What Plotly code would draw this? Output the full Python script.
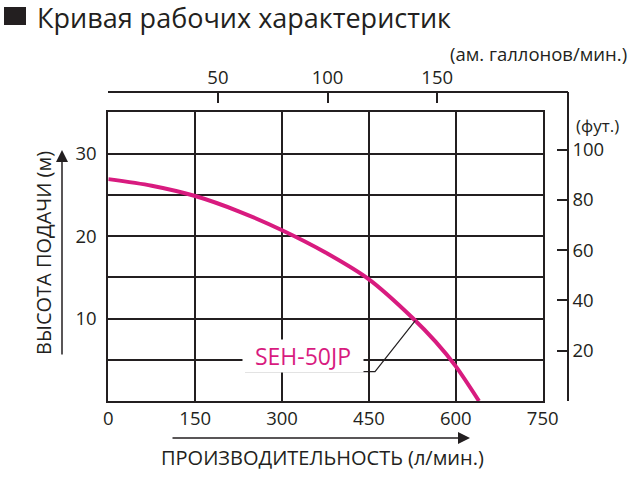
import numpy as np
import plotly.graph_objects as go

# ---- data ----
flow_lpm = [0, 75, 150, 225, 300, 375, 450, 525, 565, 600, 640]
head_m = [26.9, 26.1, 24.85, 23.0, 20.7, 18.0, 14.75, 10.1, 7.2, 4.2, 0.0]
x_ticks = [0, 150, 300, 450, 600, 750]
y_grid = [0, 5, 10, 15, 20, 25, 30, 35]
y_labels = ["", "", "10", "", "20", "", "30", ""]
gal_ticks = [50, 100, 150]
ft_ticks = [20, 40, 60, 80, 100]
series_name = "SEH-50JP"
LEADER_Q = 530
L_PER_GAL = 3.78541
M_TO_FT = 3.28084

W, H = 640, 479
INK = "#231f20"
MAG = "#d81b7f"
FONT = "Open Sans"

def fx(px):
    return px / W

def fy(py):
    return 1 - py / H

# plot area in pixels
PL, PR, PT, PB = 108.3, 542.7, 112.3, 401.0
AX_TOP, AX_RIGHT = 92.0, 568.0
x_max, y_max = 750, 35
px_per_l = (PR - PL) / x_max
px_per_m = (PB - PT) / y_max
gal_max = (AX_RIGHT - PL) / px_per_l / L_PER_GAL
ft_max = (PB - AX_TOP) / px_per_m * M_TO_FT

fig = go.Figure()
fig.add_trace(go.Scatter(x=flow_lpm, y=head_m, mode="lines", name=series_name,
                         line=dict(color=MAG, width=4, shape="spline", smoothing=0.8),
                         showlegend=False, hoverinfo="skip"))
fig.add_trace(go.Scatter(x=[], y=[], xaxis="x2", yaxis="y2", showlegend=False))

axis_font = dict(family=FONT, size=18.5, color=INK)
title_font = dict(family=FONT, size=20, color=INK)
fig.update_layout(
    width=W, height=H,
    margin=dict(l=0, r=0, t=0, b=0),
    paper_bgcolor="white", plot_bgcolor="rgba(0,0,0,0)",
    showlegend=False,
    xaxis=dict(domain=[fx(PL), fx(PR)], range=[0, x_max], tickvals=x_ticks,
               showgrid=True, gridcolor=INK, gridwidth=2, zeroline=False,
               showline=True, linecolor=INK, linewidth=2, mirror=True,
               ticks="", tickfont=axis_font, automargin=False, fixedrange=True,
               ticklabelstandoff=0),
    yaxis=dict(domain=[fy(PB), fy(PT)], range=[0, y_max], tickvals=y_grid, ticktext=y_labels,
               showgrid=True, gridcolor=INK, gridwidth=2, zeroline=False,
               showline=True, linecolor=INK, linewidth=2, mirror=True,
               ticks="", tickfont=axis_font, automargin=False, fixedrange=True,
               ticklabelstandoff=6),
    xaxis2=dict(domain=[fx(PL), fx(AX_RIGHT)], range=[0, gal_max], anchor="free",
                position=fy(AX_TOP), side="top", tickvals=gal_ticks,
                showgrid=False, zeroline=False, showline=True, linecolor=INK, linewidth=1.5,
                ticks="inside", ticklen=10, tickwidth=1.5, tickcolor=INK,
                tickfont=axis_font, automargin=False, fixedrange=True),
    yaxis2=dict(domain=[fy(PB), fy(AX_TOP)], range=[0, ft_max], anchor="free",
                position=fx(AX_RIGHT), side="right", tickvals=ft_ticks,
                showgrid=False, zeroline=False, showline=True, linecolor=INK, linewidth=1.5,
                ticks="inside", ticklen=10, tickwidth=1.5, tickcolor=INK,
                tickfont=axis_font, automargin=False, fixedrange=True),
)

ann = []
# title
ann.append(dict(x=fx(35), y=fy(17), xref="paper", yref="paper", text="Кривая рабочих характеристик",
                showarrow=False, xanchor="left", yanchor="middle",
                font=dict(family=FONT, size=27, color=INK)))
# unit labels
ann.append(dict(x=fx(629), y=fy(53), xref="paper", yref="paper", text="(ам. галлонов/мин.)",
                showarrow=False, xanchor="right", yanchor="middle", font=axis_font))
ann.append(dict(x=fx(574), y=fy(125), xref="paper", yref="paper", text="(фут.)",
                showarrow=False, xanchor="left", yanchor="middle",
                font=dict(family=FONT, size=17, color=INK)))
# axis titles
ann.append(dict(x=fx(43), y=fy(253), xref="paper", yref="paper", text="ВЫСОТА ПОДАЧИ (м)",
                textangle=-90, showarrow=False, xanchor="center", yanchor="middle", font=title_font))
ann.append(dict(x=fx(322), y=fy(457), xref="paper", yref="paper", text="ПРОИЗВОДИТЕЛЬНОСТЬ (л/мин.)",
                showarrow=False, xanchor="center", yanchor="middle", font=title_font))
# arrows
ann.append(dict(x=fx(62), y=fy(150), xref="paper", yref="paper", ax=0, ay=206, axref="pixel", ayref="pixel",
                text="", showarrow=True, arrowhead=2, arrowsize=1.6, arrowwidth=1.5, arrowcolor=INK))
ann.append(dict(x=fx(470), y=fy(438), xref="paper", yref="paper", ax=-299, ay=0, axref="pixel", ayref="pixel",
                text="", showarrow=True, arrowhead=2, arrowsize=1.6, arrowwidth=1.5, arrowcolor=INK))
# series label
lab_x = (302.5 - PL) / px_per_l
lab_y = (PB - 356) / px_per_m
ann.append(dict(x=lab_x, y=lab_y, xref="x", yref="y", text=series_name, showarrow=False,
                font=dict(family=FONT, size=23, color=MAG), bgcolor="white",
                width=120, height=32, borderpad=0, xanchor="center", yanchor="middle"))
fig.update_layout(annotations=ann)

# title square
fig.add_shape(type="rect", xref="paper", yref="paper", x0=fx(4), x1=fx(26), y0=fy(25), y1=fy(7),
              fillcolor=INK, line=dict(width=0))
# leader line from label underline to curve
u_y = (PB - 371.7) / px_per_m
u_x0 = (245 - PL) / px_per_l
u_x1 = (375 - PL) / px_per_l
lead_h = float(np.interp(LEADER_Q, flow_lpm, head_m))
fig.add_shape(type="path", xref="x", yref="y",
              path=f"M {u_x0},{u_y} L {u_x1},{u_y} L {LEADER_Q},{lead_h}",
              line=dict(color=INK, width=1.2))

fig.write_html("out.html", config={"displayModeBar": False},
               post_script="document.body.style.margin='0';document.body.style.overflow='hidden';")
